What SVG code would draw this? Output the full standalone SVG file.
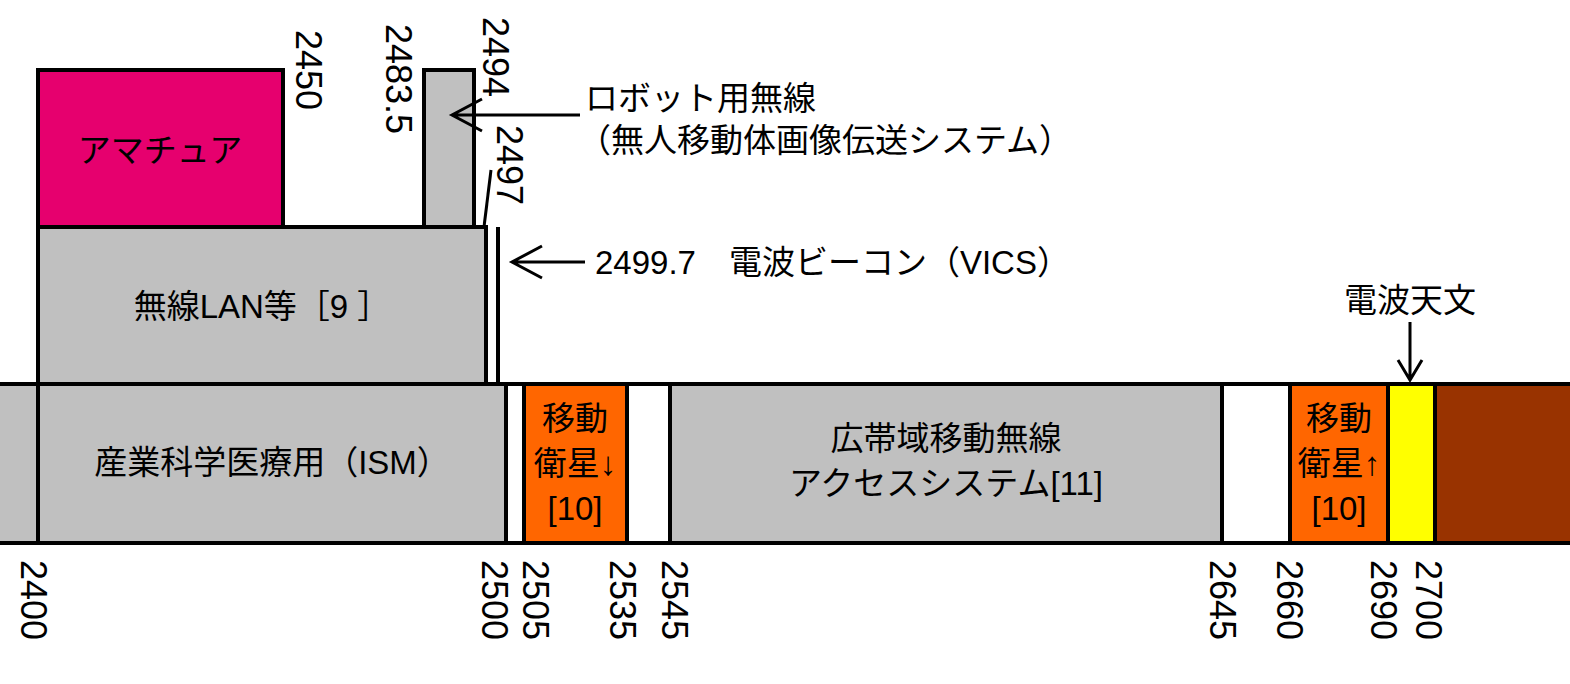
<svg xmlns="http://www.w3.org/2000/svg" width="1570" height="684" viewBox="0 0 1570 684">
<style>
text{font-family:"Liberation Sans","Noto Sans CJK JP",sans-serif;font-size:33px;fill:#000}
.n{font-size:36px}
.c{text-anchor:middle}
.b{stroke:#000;stroke-width:4}
.g{fill:#c0c0c0}
.w{fill:#fff}
.o{fill:#ff6600}
.ln{stroke:#000;stroke-width:3;fill:none}
</style>
<rect width="1570" height="684" fill="#fff"/>
<g id="ism"><rect x="-4" y="384" width="510" height="159" class="g b"/><line x1="38" y1="384" x2="38" y2="543" class="b"/><text x="272" y="474" class="c">産業科学医療用（ISM）</text></g>
<g id="gap1"><rect x="506" y="384" width="18" height="159" class="w b"/></g>
<g id="mss-down"><rect x="524" y="384" width="103" height="159" class="o b"/><text x="575" y="430" class="c">移動</text><text x="575" y="475" class="c">衛星↓</text><text x="575" y="520" class="c">[10]</text></g>
<g id="gap2"><rect x="627" y="384" width="43" height="159" class="w b"/></g>
<g id="bwa"><rect x="670" y="384" width="552" height="159" class="g b"/><text x="946" y="450" class="c">広帯域移動無線</text><text x="946" y="495" class="c">アクセスシステム[11]</text></g>
<g id="gap3"><rect x="1222" y="384" width="68" height="159" class="w b"/></g>
<g id="mss-up"><rect x="1290" y="384" width="98" height="159" class="o b"/><text x="1339" y="430" class="c">移動</text><text x="1339" y="475" class="c">衛星↑</text><text x="1339" y="520" class="c">[10]</text></g>
<g id="radioastro"><rect x="1388" y="384" width="47" height="159" fill="#ffff00" class="b"/></g>
<g id="brown"><rect x="1435" y="384" width="140" height="159" fill="#993300" class="b"/></g>
<g id="lan"><rect x="38" y="227" width="448" height="157" class="g b"/><text x="262" y="318" class="c">無線LAN等［9 ］</text></g>
<g id="amateur"><rect x="38" y="70" width="245" height="157" fill="#e6006e" class="b"/><text x="160" y="162" class="c">アマチュア</text></g>
<g id="robot"><rect x="424" y="70" width="50" height="157" class="g b"/></g>
<g id="vics"><line x1="498" y1="227" x2="498" y2="384" class="b"/></g>
<g id="connectors">
<line x1="491" y1="170" x2="484" y2="227" class="ln"/>
<path d="M580 115H452M482 99L452 115L482 131" class="ln"/>
<path d="M585 262H512M542 246L512 262L542 278" class="ln"/>
<path d="M1410 322V380M1398 360L1410 380L1422 360" class="ln"/>
</g>
<g id="labels">
<text x="585" y="110">ロボット用無線</text>
<text x="578" y="152">（無人移動体画像伝送システム）</text>
<text x="595" y="274">2499.7　電波ビーコン（VICS）</text>
<text x="1410" y="312" class="c">電波天文</text>
<text class="n" transform="translate(296,30) rotate(90)">2450</text>
<text class="n" transform="translate(386,24) rotate(90)">2483.5</text>
<text class="n" transform="translate(483,17) rotate(90)">2494</text>
<text class="n" transform="translate(497,125) rotate(90)">2497</text>
<text class="n" transform="translate(21,560) rotate(90)">2400</text>
<text class="n" transform="translate(482,560) rotate(90)">2500</text>
<text class="n" transform="translate(523,560) rotate(90)">2505</text>
<text class="n" transform="translate(610,560) rotate(90)">2535</text>
<text class="n" transform="translate(662,560) rotate(90)">2545</text>
<text class="n" transform="translate(1210,560) rotate(90)">2645</text>
<text class="n" transform="translate(1277,560) rotate(90)">2660</text>
<text class="n" transform="translate(1371,560) rotate(90)">2690</text>
<text class="n" transform="translate(1416,560) rotate(90)">2700</text>
</g>
</svg>
